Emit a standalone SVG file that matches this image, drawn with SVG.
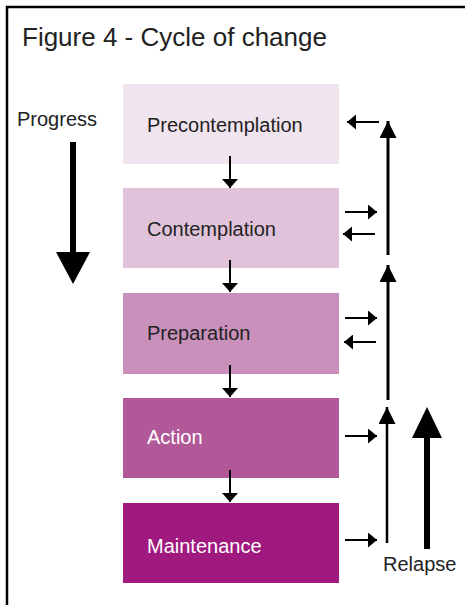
<svg xmlns="http://www.w3.org/2000/svg" width="465" height="605" viewBox="0 0 465 605">
<style>
text{font-family:"Liberation Sans",Arial,sans-serif;font-size:20px;fill:#222}
.w{fill:#fff}
.ln{stroke:#000;fill:none}
</style>
<defs>
<marker id="ahs" viewBox="0 0 10 10" refX="10" refY="5" markerWidth="9" markerHeight="15" markerUnits="userSpaceOnUse" orient="auto" preserveAspectRatio="none"><path d="M0,0L10,5L0,10z" fill="#000"/></marker>
<marker id="ahd" viewBox="0 0 10 10" refX="10" refY="5" markerWidth="9" markerHeight="16" markerUnits="userSpaceOnUse" orient="auto" preserveAspectRatio="none"><path d="M0,0L10,5L0,10z" fill="#000"/></marker>
<marker id="ahu" viewBox="0 0 10 10" refX="10" refY="5" markerWidth="17" markerHeight="17" markerUnits="userSpaceOnUse" orient="auto" preserveAspectRatio="none"><path d="M0,0L10,5L0,10z" fill="#000"/></marker>
</defs>
<rect x="7" y="7" width="470" height="620" fill="#fff" stroke="#000" stroke-width="2.5"/>
<text x="22" y="46" style="font-size:26px">Figure 4 - Cycle of change</text>
<g id="progress">
<text x="17" y="126">Progress</text>
<line class="ln" x1="73" y1="142" x2="73" y2="256" stroke-width="6"/>
<path d="M56,252L90,252L73,284z" fill="#000"/>
</g>
<g id="precontemplation"><rect x="123" y="84" width="216" height="80" fill="#f0e4ef"/><text x="147" y="132">Precontemplation</text></g>
<g id="contemplation"><rect x="123" y="188" width="216" height="80" fill="#e0c2da"/><text x="147" y="236">Contemplation</text></g>
<g id="preparation"><rect x="123" y="293" width="216" height="81" fill="#c990bb"/><text x="147" y="340">Preparation</text></g>
<g id="action"><rect x="123" y="398" width="216" height="80" fill="#b15898"/><text class="w" x="147" y="444">Action</text></g>
<g id="maintenance"><rect x="123" y="503" width="216" height="80" fill="#a0197e"/><text class="w" x="147" y="553">Maintenance</text></g>
<g id="relapse">
<text x="383" y="571">Relapse</text>
<line class="ln" x1="427" y1="436" x2="427" y2="549" stroke-width="6"/>
<path d="M412,438L442,438L427,407z" fill="#000"/>
</g>
<g id="connectors" stroke="#000" fill="none" stroke-width="2">
<line x1="230" y1="156" x2="230" y2="188" marker-end="url(#ahd)"/>
<line x1="230" y1="260" x2="230" y2="292" marker-end="url(#ahd)"/>
<line x1="230" y1="365" x2="230" y2="397" marker-end="url(#ahd)"/>
<line x1="230" y1="470" x2="230" y2="502" marker-end="url(#ahd)"/>
<line x1="379" y1="122" x2="347" y2="122" marker-end="url(#ahs)"/>
<line x1="345" y1="212" x2="377" y2="212" marker-end="url(#ahs)"/>
<line x1="375" y1="234" x2="343" y2="234" marker-end="url(#ahs)"/>
<line x1="345" y1="318" x2="377" y2="318" marker-end="url(#ahs)"/>
<line x1="376" y1="342" x2="344" y2="342" marker-end="url(#ahs)"/>
<line x1="345" y1="436" x2="377" y2="436" marker-end="url(#ahs)"/>
<line x1="345" y1="540" x2="377" y2="540" marker-end="url(#ahs)"/>
<line x1="388" y1="255" x2="388" y2="121" stroke-width="3" marker-end="url(#ahu)"/>
<line x1="388" y1="400" x2="388" y2="265" stroke-width="3" marker-end="url(#ahu)"/>
<line x1="387" y1="543" x2="387" y2="407" stroke-width="2.5" marker-end="url(#ahu)"/>
</g>
</svg>
